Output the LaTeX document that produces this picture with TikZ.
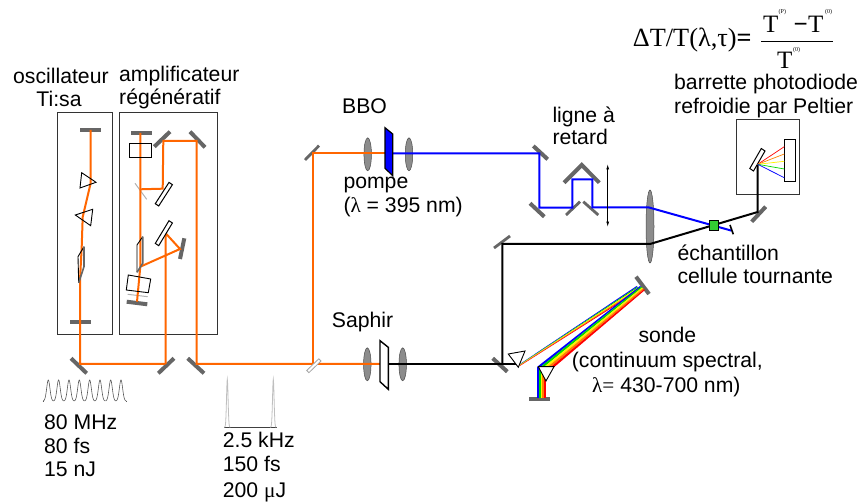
\documentclass[tikz,border=0pt]{standalone}
\usepackage{fontspec}
\setmainfont{Liberation Sans}
\newfontfamily\serifgrk{Liberation Serif}
\usetikzlibrary{arrows.meta,calc,shapes.geometric}
\definecolor{beamorange}{HTML}{FF6600}
\definecolor{beamblue}{HTML}{0000FF}
\definecolor{mirrorgrey}{HTML}{666666}
\definecolor{lensgrey}{HTML}{8C8C8C}
\definecolor{samplegreen}{HTML}{33CC33}
\newcommand{\rainbowband}[4]{%
  \foreach \bandcol/\bandfrom/\bandto in {beamblue/0/0.2,green!85!black/0.2/0.4,yellow/0.4/0.6,orange/0.6/0.8,red/0.8/1}
    \fill[\bandcol] ($(#1)!\bandfrom!(#2)$) -- ($(#1)!\bandto!(#2)$) -- ($(#3)!\bandto!(#4)$) -- ($(#3)!\bandfrom!(#4)$) -- cycle;
}
\begin{document}
\begin{tikzpicture}[
x=1pt, y=-1pt,
label/.style={anchor=base west, inner sep=0pt, font=\fontsize{21.2}{24}\selectfont},
centerlabel/.style={anchor=base, inner sep=0pt, font=\fontsize{21.2}{24}\selectfont},
eqleft/.style={anchor=base west, inner sep=0pt, font=\serifgrk\fontsize{26.3}{28}\selectfont},
eqtext/.style={anchor=base west, inner sep=0pt, font=\serifgrk\fontsize{25}{27}\selectfont},
eqsup/.style={anchor=base west, inner sep=0pt, font=\serifgrk\fontsize{6}{7}\selectfont},
mirror/.style={draw=mirrorgrey, line width=4pt},
thinmirror/.style={draw=mirrorgrey, line width=2.8pt},
splitter/.style={draw=black!30, line width=1pt},
optic/.style={draw=black, fill=white, line width=1pt},
prism/.style={draw=black, line width=0.9pt},
housing/.style={draw=black!80, line width=1pt},
orangebeam/.style={draw=beamorange, line width=2pt},
bluebeam/.style={draw=beamblue, line width=2pt},
blackbeam/.style={draw=black, line width=2pt},
lens/.style={ellipse, draw=black!70, fill=lensgrey, line width=0.5pt, inner sep=0pt, minimum width=7.5pt, minimum height=33pt},
pulse/.style={draw=black!65, line width=0.6pt}
]
\useasboundingbox (0,0) rectangle (860,502);

\draw[housing] (57.5,113) rectangle (112,335);
\draw[housing] (119.5,113) rectangle (217.5,335);
\draw[housing] (736.7,120) rectangle (799,194.3);

\node[label] (oscname) at (13,83.3) {oscillateur};
\node[centerlabel] (tisa) at (59,106.7) {Ti:sa};
\node[label] (ampname) at (119,81.7) {amplificateur};
\node[label] (regen) at (119,105) {régénératif};
\node[label] (rateA) at (44,430) {80 MHz};
\node[label] (widthA) at (44,453.3) {80 fs};
\node[label] (energyA) at (44,476.7) {15 nJ};
\node[label] (rateB) at (222.7,447.7) {2.5 kHz};
\node[label] (widthB) at (222.7,471.7) {150 fs};
\node[label] (energyB) at (222.7,497) {200 {\serifgrk μ}J};
\node[label] (bbo) at (342,114) {BBO};
\node[label] (pompe) at (343.3,189) {pompe};
\node[label] (pompewl) at (343.3,213) {({\serifgrk λ} = 395 nm)};
\node[label] (saphir) at (331.7,327.3) {Saphir};
\node[label] (ligne) at (552.3,122.3) {ligne à};
\node[label] (retard) at (552.3,145) {retard};
\node[label] (barrette) at (674,90) {barrette photodiode};
\node[label] (refroidie) at (674,114) {refroidie par Peltier};
\node[label] (echant) at (677.3,260.7) {échantillon};
\node[label] (cellule) at (677.3,284) {cellule tournante};
\node[label] (sonde) at (638.3,343) {sonde};
\node[label] (continuum) at (571.7,367.7) {(continuum spectral,};
\node[label] (sondewl) at (592,393) {{\serifgrk λ=} 430-700 nm)};

\node[eqleft] (dtt) at (632.7,47) {ΔT/T(λ,τ){\bfseries =}};
\node[eqtext] (numa) at (763,33) {T};
\node[eqsup] (supp) at (778.5,14) {(P)};
\node[eqtext] (numm) at (793.5,33) {\bfseries −};
\node[eqtext] (numb) at (808,33) {T};
\node[eqsup] (supo) at (825,14) {(0)};
\node[eqtext] (dena) at (777,68.5) {T};
\node[eqsup] (supd) at (793,52) {(0)};
\draw[line width=0.9pt] (761,41.7) -- (832.7,41.7);

\draw[mirror] (80,130) -- (101,130);
\draw[mirror] (70,322) -- (91,322);
\draw[mirror] (131,133) -- (152,133);
\draw[mirror] (154.3,146.7) -- (170,131.7);
\draw[mirror] (190,131.7) -- (205,147.3);
\draw[mirror] (184.3,238.3) -- (180,259);
\draw[mirror] (126.7,301.7) -- (147.3,304.3);
\draw[mirror] (71,358.3) -- (86.7,373.3);
\draw[mirror] (158.3,373.3) -- (174,358.3);
\draw[mirror] (187.7,358.3) -- (204,373.3);
\draw[thinmirror] (305,160) -- (319,145.7);
\draw[mirror] (533.3,146) -- (547.7,159.3);
\draw[mirror] (530,203.3) -- (544.3,216.7);
\draw[mirror, line join=miter] (564,182.7) -- (581.7,165) -- (599.3,182.7);
\draw[thinmirror] (566,215) -- (580,201.7);
\draw[thinmirror] (583.3,201.7) -- (598.3,215);
\draw[thinmirror] (494,248) -- (510,236);
\draw[mirror] (751.7,221.7) -- (765.7,206.7);
\draw[mirror] (492.7,358.3) -- (507.3,371.7);
\draw[mirror] (636,276.7) -- (649,294);
\draw[mirror] (529,399.3) -- (550,399.3);
\draw[splitter] (135,183.3) -- (146.7,199.3);
\draw[splitter] (127.7,294.3) -- (147.7,296.7);

\node[lens] (lensbboa) at (367.7,154.3) {};
\node[lens] (lensbbob) at (409,154.3) {};
\node[lens] (lenssapha) at (367.3,364.3) {};
\node[lens] (lenssaphb) at (402.7,364.3) {};
\node[lens, minimum width=8pt, minimum height=73pt] (lensfocus) at (650,226.5) {};

\draw[orangebeam] (90.7,130) -- (90.7,183) -- (82.7,217) -- (81.7,247) -- (80,280) -- (80,364) -- (165.3,364);
\draw[orangebeam] (140.3,133) -- (140.3,266.7) -- (137,301.7);
\draw[orangebeam] (140.3,189.3) -- (162.7,188.7) -- (163.3,141) -- (196.7,141) -- (196.7,364) -- (312.7,364) -- (381.7,364);
\draw[orangebeam] (140.3,266.7) -- (180,249) -- (165.7,233.3) -- (165.7,364);
\draw[orangebeam] (312.7,364) -- (312.7,153.3) -- (385,153.3);
\coordinate (bluestart) at (392.7,153.3);
\coordinate (focuspoint) at (649,207.5);
\coordinate (blockpoint) at (731.7,230.7);
\draw[bluebeam] (bluestart) -- (539.3,153.3) -- (539.3,207.7) -- (572.3,207.7) -- (572.3,179.3) -- (592.3,179.3) -- (592.3,207.5) -- (focuspoint) -- (blockpoint);
\coordinate (saphout) at (388,364);
\coordinate (probelens) at (650,244);
\coordinate (detmirror) at (757.7,212);
\draw[blackbeam] (saphout) -- (518.3,364);
\draw[blackbeam] (502.3,364) -- (502.3,244) -- (probelens) -- (detmirror) -- (757.7,164.3);

\draw[prism] (81.7,172.7) -- (96,182.3) -- (80,188) -- cycle;
\draw[prism] (75.3,215) -- (92.7,209.3) -- (90.7,225.7) -- cycle;
\draw[prism] (84,246.7) -- (78,256.7) -- (78.7,282.7);
\draw[thinmirror, line width=1.6pt] (84,246.7) -- (84,266.7) -- (78.7,282.7);
\draw[prism] (142.7,236.7) -- (137,245) -- (137,272.3);
\draw[thinmirror, line width=1.6pt] (142.7,236.7) -- (142.7,263.3) -- (137,272.3);
\draw[prism] (129.3,143.3) rectangle (151.7,157.7);
\draw[prism] (128.3,275) -- (150.7,279) -- (148.3,292.7) -- (126.3,290) -- cycle;
\draw[optic] (155.3,203.7) -- (158.7,206) -- (172.4,184.7) -- (169,182.4) -- cycle;
\draw[optic] (155.3,243.4) -- (158.7,245.7) -- (172.4,223) -- (169,220.7) -- cycle;

\draw[splitter, draw=black!35, fill=white, line width=0.8pt] (306.7,370.5) -- (308.9,372.7) -- (321,361) -- (318.8,358.8) -- cycle;

\draw[optic, fill=beamblue, line width=1.2pt] (385,127.7) -- (392.7,134) -- (392.7,175.7) -- (385,168.3) -- cycle;
\draw[optic, line width=1.4pt] (380,340.7) -- (388.3,347.3) -- (388.3,389.3) -- (380,381.7) -- cycle;

\draw[{Latex[length=1.8mm,width=1mm]}-{Latex[length=1.8mm,width=1mm]}, line width=0.6pt] (607.7,164.3) -- (607.7,226.7);

\node[draw=black, fill=samplegreen, line width=0.6pt, inner sep=0pt, minimum width=9.5pt, minimum height=10pt] (sample) at (714,225.3) {};
\draw[draw=black, line width=1.6pt] (730,225) -- (733.3,234.3);

\draw[optic] (749.8,168.5) -- (753.5,171) -- (765,151) -- (761.3,148.5) -- cycle;
\draw[optic] (784.3,140) rectangle (795.7,181.7);
\coordinate (gratingspot) at (757.7,164.3);
\draw[draw=red, line width=0.7pt] (gratingspot) -- (784.3,146.7);
\draw[draw=orange, line width=0.7pt] (gratingspot) -- (784.3,154);
\draw[draw=yellow, line width=0.7pt] (gratingspot) -- (784.3,161.3);
\draw[draw=green!85!black, line width=0.7pt] (gratingspot) -- (784.3,169);
\draw[draw=beamblue, line width=0.7pt] (gratingspot) -- (784.3,177.7);

\coordinate (thinstarta) at (519,364.6);
\coordinate (thinstartb) at (519.8,366);
\coordinate (thinenda) at (636.7,286);
\coordinate (thinendb) at (640,290);
\coordinate (widestarta) at (537.3,366.7);
\coordinate (widestartb) at (554,367.3);
\coordinate (wideenda) at (640,286);
\coordinate (wideendb) at (645,290);
\coordinate (vertstarta) at (537.3,367);
\coordinate (vertstartb) at (545.5,367);
\coordinate (vertenda) at (537.3,398);
\coordinate (vertendb) at (545.5,398);
\rainbowband{thinstarta}{thinstartb}{thinenda}{thinendb}
\rainbowband{widestarta}{widestartb}{wideenda}{wideendb}
\rainbowband{vertstarta}{vertstartb}{vertenda}{vertendb}
\draw[optic, line width=0.9pt] (508.3,354) -- (525,351) -- (518.3,367.3) -- cycle;
\draw[optic, line width=0.9pt] (538.3,366.7) -- (554,366.7) -- (546,381) -- cycle;

\foreach \peak in {48.3,58.6,69,79.3,89.7,100,110.7,121}
  \draw[pulse] plot[domain=\peak-5.2:\peak+5.2, samples=31] (\x, {401-21*exp(-((\x-\peak)/2.3)^2)});
\draw[pulse] (42.7,401) -- (43.1,401);
\draw[pulse] (126.2,401) -- (126.7,401);
\draw[draw=black!75, line width=0.7pt] (224,427.3) -- (276.7,427.3);
\foreach \peak in {227.3,273.3}
  \draw[draw=black!25, line width=0.8pt] plot[domain=\peak-3:\peak+3, samples=25] (\x, {427.3-48*exp(-((\x-\peak)/1.1)^2)});
\end{tikzpicture}
\end{document}
